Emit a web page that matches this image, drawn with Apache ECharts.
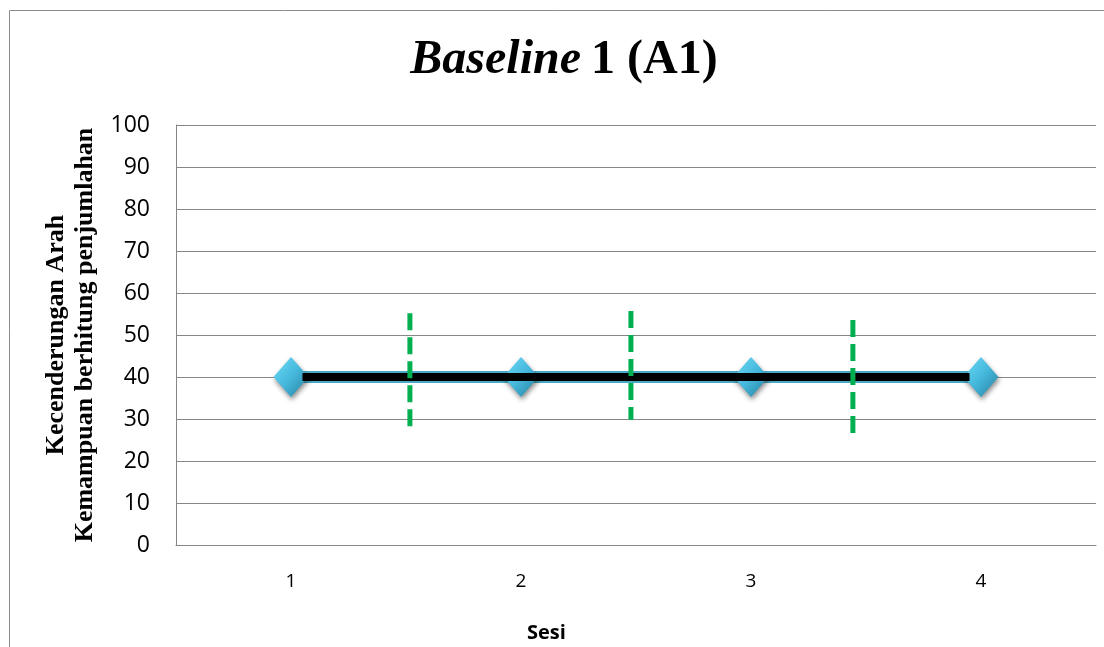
<!DOCTYPE html>
<html style="height: 100%">
<head>
<meta charset="utf-8" />
</head>
<body style="height: 100%; margin: 0; background: #fff">
<div id="container" style="width: 1104px; height: 647px"></div>
<script src="https://cdn.jsdelivr.net/npm/echarts@6/dist/echarts.min.js"></script>
<script>
// data
var sessions = ['1', '2', '3', '4'];
var scores = [40, 40, 40, 40];
// trend line (x in session units, on a hidden value axis)
var trendX = [1.05, 3.95];
var trendY = [40, 40];
// green dashed dividers between sessions
var dividerX = [1.517, 2.478, 3.443];
var dividerTop = [55.2, 55.7, 53.6];
var dividerBottom = [28.1, 29.8, 25];

var chart = echarts.init(document.getElementById('container'), null, { renderer: 'canvas' });

var series = [
    {
        name: 'Baseline',
        type: 'line',
        data: scores,
        z: 2,
        lineStyle: { color: '#4aa8c4', width: 12 },
        symbol: 'diamond',
        symbolSize: [35, 40],
        itemStyle: {
            color: new echarts.graphic.LinearGradient(0, 0, 1, 1, [
                { offset: 0, color: '#6fdcf8' },
                { offset: 0.5, color: '#45b8dc' },
                { offset: 1, color: '#267f9e' }
            ]),
            borderWidth: 0,
            shadowBlur: 5,
            shadowColor: 'rgba(0,0,0,0.45)',
            shadowOffsetX: 1,
            shadowOffsetY: 3
        },
        emphasis: { disabled: true }
    },
    {
        name: 'Trend',
        type: 'line',
        xAxisIndex: 1,
        data: trendX.map(function (x, i) { return [x, trendY[i]]; }),
        z: 3,
        symbol: 'none',
        lineStyle: { color: '#000', width: 8, cap: 'butt' },
        emphasis: { disabled: true }
    }
];

dividerX.forEach(function (x, i) {
    series.push({
        type: 'line',
        xAxisIndex: 1,
        data: [[x, dividerTop[i]], [x, dividerBottom[i]]],
        z: 4,
        symbol: 'none',
        lineStyle: { color: '#00b050', width: 5, type: [17, 7], cap: 'butt' },
        emphasis: { disabled: true }
    });
});

var option = {
    animation: false,
    title: {
        text: '{i|Baseline}  {b|1 (A1)}',
        left: 559,
        top: 32,
        textAlign: 'center',
        textStyle: {
            rich: {
                i: { fontFamily: 'Liberation Serif', fontSize: 48, fontWeight: 'bold', fontStyle: 'italic', color: '#000' },
                b: { fontFamily: 'Liberation Serif', fontSize: 48, fontWeight: 'bold', color: '#000' }
            }
        }
    },
    graphic: [
        {
            type: 'rect',
            shape: { x: 9.5, y: 10.5, width: 1120, height: 700 },
            style: { fill: 'none', stroke: '#8c8c8c', lineWidth: 1 },
            silent: true
        },
        {
            type: 'text',
            left: 527,
            top: 623,
            style: { text: 'Sesi', fontFamily: 'Open Sans', fontWeight: 'bold', fontSize: 20, fill: '#000' }
        }
    ],
    grid: { left: 176, right: 8, top: 125, bottom: 102 },
    xAxis: [
        {
            type: 'category',
            data: sessions,
            boundaryGap: true,
            axisLine: { lineStyle: { color: '#868686', width: 1 } },
            axisTick: { show: false },
            axisLabel: { color: '#000', fontFamily: 'Open Sans', fontSize: 19, margin: 27 }
        },
        {
            type: 'value',
            min: 0.5,
            max: 4.5,
            show: false,
            position: 'bottom'
        }
    ],
    yAxis: {
        type: 'value',
        min: 0,
        max: 100,
        interval: 10,
        name: 'Kecenderungan Arah\nKemampuan berhitung penjumlahan',
        nameLocation: 'middle',
        nameRotate: 90,
        nameGap: 63,
        nameTextStyle: {
            fontFamily: 'Liberation Serif',
            fontWeight: 'bold',
            fontSize: 26,
            lineHeight: 29,
            color: '#000'
        },
        axisLine: { show: true, lineStyle: { color: '#868686', width: 1 } },
        axisTick: { show: false },
        axisLabel: { color: '#000', fontFamily: 'Open Sans', fontSize: 23, margin: 26 },
        splitLine: { lineStyle: { color: '#868686', width: 1 } }
    },
    series: series
};

chart.setOption(option);
window.addEventListener('resize', chart.resize);
</script>
</body>
</html>
